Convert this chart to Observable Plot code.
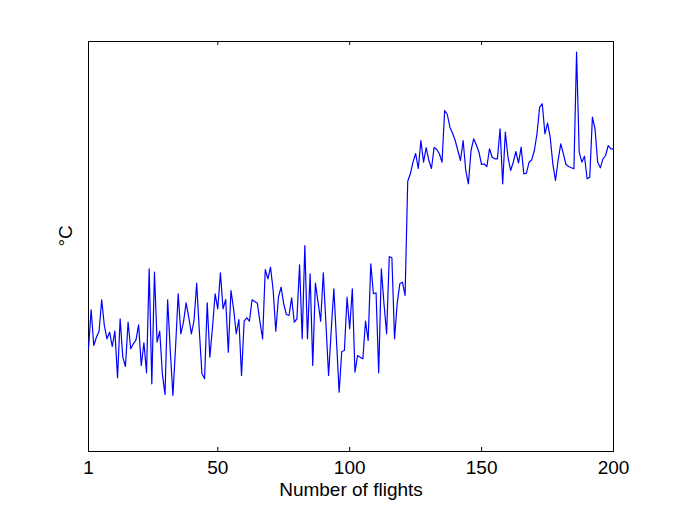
<!DOCTYPE html>
<html>
<head>
<meta charset="utf-8">
<script src="https://cdn.jsdelivr.net/npm/d3@7"></script>
<script src="https://cdn.jsdelivr.net/npm/@observablehq/plot@0.6"></script>
<style>
  html, body { margin: 0; padding: 0; background: #ffffff; }
  #chart { width: 676px; height: 509px; }
</style>
</head>
<body>
<div id="chart"></div>
<script>
// Flight number (1..200)
const flights = d3.range(1, 201);

// Temperature readings (arbitrary units)
const temps = [
  102.7, 141.7, 106, 114.3, 120.3, 151.7, 126, 112.7, 119.3, 105,
  120.3, 73.7, 132.7, 94.3, 85, 129.3, 102.7, 107.7, 111.7, 126.7,
  86, 108.7, 78.7, 182.7, 67.7, 179.3, 109.3, 120.3, 77.7, 57,
  151.7, 101, 56, 104.3, 157.7, 117.7, 129.3, 148.7, 134.3, 117.7,
  131, 168.3, 121, 77.7, 72.7, 148.7, 94.3, 124.3, 157.7, 142.7,
  178.7, 142.7, 152, 99.3, 161, 142.7, 117.7, 132, 76, 130.3,
  133.7, 130.3, 151.7, 150, 148.3, 129.3, 112.7, 182, 172.7, 184.3,
  161, 120.3, 154.3, 164.3, 147.7, 137, 136, 153.7, 129.3, 132.7,
  186.7, 112.7, 206, 112.7, 177.7, 86, 168.3, 149.3, 130.3, 178.7,
  127.7, 76, 121, 162.7, 111, 59.3, 100, 101, 154.3, 122.7,
  162.7, 79.3, 96, 94.3, 92.7, 130.3, 111, 187.7, 157.7, 158.7,
  78.7, 182.7, 147.7, 117.7, 195, 193.7, 112.7, 147.7, 167.7, 169.3,
  156, 270.3, 277.7, 289.3, 298, 283, 311, 289.3, 304, 291,
  283, 304, 302, 297.7, 289.3, 341, 337, 324.3, 318.3, 311,
  301, 291, 311, 281, 267.7, 301, 312.7, 306.7, 299.3, 287,
  287.7, 285, 302.7, 294.3, 292.7, 292.7, 322.7, 267.7, 319.3, 294.3,
  281, 289.3, 300, 288.5, 304.3, 277.7, 278.3, 289.3, 291.7, 301,
  317.7, 344.3, 347.7, 317.7, 328.3, 314.3, 287.7, 271, 291, 307.7,
  297.7, 287, 285, 283.7, 282.7, 399.3, 299.3, 289.3, 295.3, 272.7,
  274.3, 334.3, 322.7, 289.3, 283.7, 292.7, 296, 306, 302.7, 302.7
];

const xTicks = [1, 50, 100, 150, 200];
const xTickLabels = ["1", "50", "100", "150", "200"];
const xLabel = "Number of flights";
const yLabel = "°C";

const data = flights.map((f, i) => ({flight: f, temp: temps[i]}));

const chart = Plot.plot({
  width: 676,
  height: 509,
  marginLeft: 88,
  marginRight: 63,
  marginTop: 41,
  marginBottom: 58,
  x: {domain: [1, 200], axis: null},
  y: {domain: [0, 410], axis: null},
  style: {fontFamily: "'Liberation Sans', Arial, sans-serif", background: "white", color: "black"},
  marks: [
    Plot.frame({stroke: "black", strokeWidth: 1}),
    Plot.ruleX(xTicks, {x: d => d, y1: 0, y2: 4, stroke: "black"}),
    Plot.ruleX(xTicks, {x: d => d, y1: 406, y2: 410, stroke: "black"}),
    Plot.line(data, {x: "flight", y: "temp", stroke: "#0000ff", strokeWidth: 1.2}),
    Plot.text(xTicks, {x: d => d, y: 0, text: (d, i) => xTickLabels[i], dy: 16, fontSize: 19, fill: "black"}),
    Plot.text([xLabel], {frameAnchor: "bottom", dy: 44, text: d => d, fontSize: 19, fill: "black"}),
    Plot.text([yLabel], {frameAnchor: "left", dx: -23, rotate: -90, text: d => d, fontSize: 19, fill: "black"})
  ]
});
document.getElementById("chart").appendChild(chart);
</script>
</body>
</html>
